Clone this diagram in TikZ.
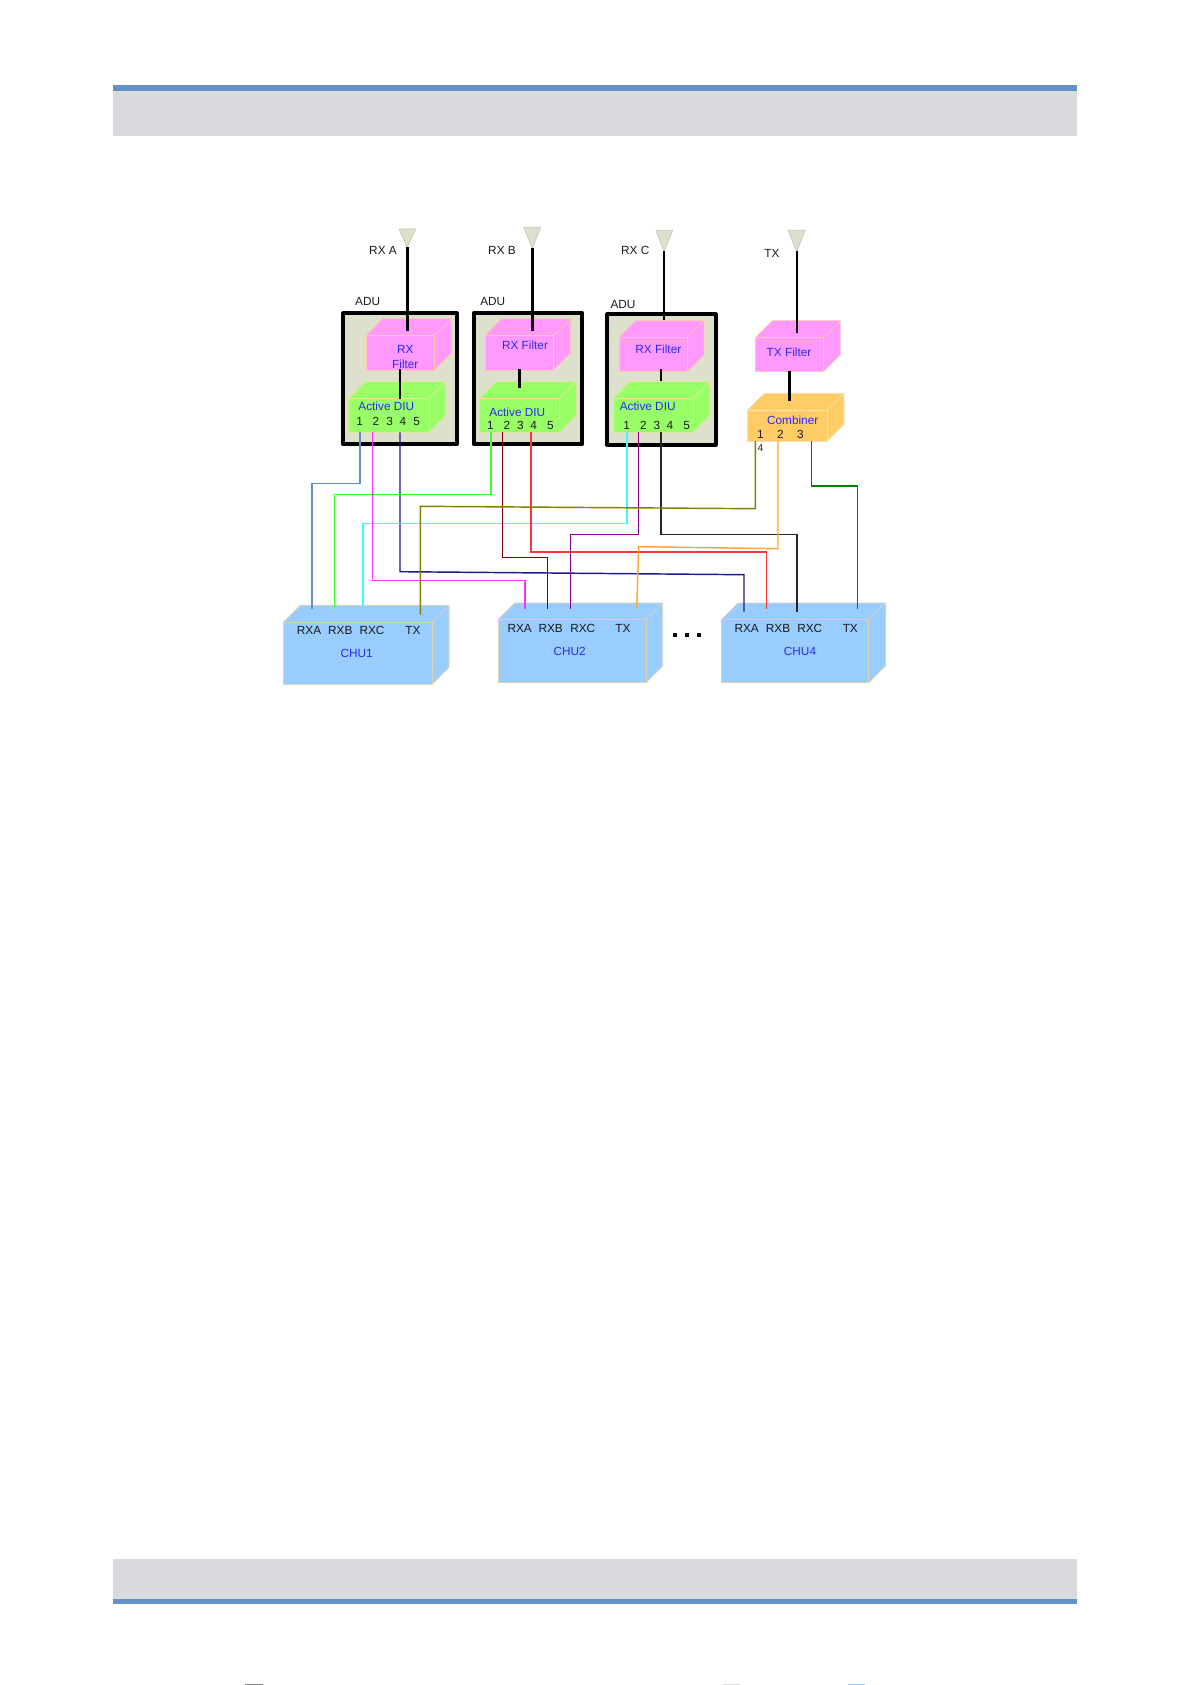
\documentclass[tikz,border=0pt]{standalone}
\usepackage{fontspec}
\setmainfont{Liberation Sans}
\definecolor{bandblue}{HTML}{6491C8}
\definecolor{bandgray}{HTML}{D9DADE}
\definecolor{adufill}{HTML}{DDE0CC}
\definecolor{filterpink}{HTML}{FF99FF}
\definecolor{filterpinkedge}{HTML}{FFC8A8}
\definecolor{diugreen}{HTML}{99FF66}
\definecolor{diugreenedge}{HTML}{E6E6A0}
\definecolor{combfill}{HTML}{FFCC66}
\definecolor{combfilledge}{HTML}{F2E2B8}
\definecolor{chublue}{HTML}{99CCFF}
\definecolor{chubluedge}{HTML}{DCD3AE}
\definecolor{labelblue}{HTML}{2A2AF0}
\definecolor{labeltext}{HTML}{1A1A1A}
\definecolor{wblue}{HTML}{6090CC}
\definecolor{wgreen}{HTML}{33FF33}
\definecolor{wmag}{HTML}{FF33FF}
\definecolor{wnavy}{HTML}{1A1A88}
\definecolor{wcyan}{HTML}{33FFFF}
\definecolor{wdred}{HTML}{800000}
\definecolor{wred}{HTML}{FF3333}
\definecolor{wpurple}{HTML}{880088}
\definecolor{wolive}{HTML}{808000}
\definecolor{worange}{HTML}{FFA733}
\definecolor{wdgreen}{HTML}{008000}
\newcommand{\cuboid}[8]{% name, x1, y1, x2, y2, offset, fill, edge colour
  \fill[#7] (#2,#3) -- (#2+#6,#3-#6) -- (#4+#6,#3-#6) -- (#4+#6,#5-#6) -- (#4,#5) -- cycle;
  \draw[cubeedge,draw=#8] (#2,#3) -- (#2+#6,#3-#6) -- (#4+#6,#3-#6) -- (#4+#6,#5-#6) -- (#4,#5)
        (#4,#3) -- (#4+#6,#3-#6);
  \node[cubefront,fill=#7,draw=#8,minimum width={#4-#2},minimum height={#5-#3},anchor=north west] (#1) at (#2,#3) {};
}
\begin{document}
\begin{tikzpicture}[x=1pt,y=-1pt,
  cubeedge/.style={line width=0.7pt,line join=round},
  cubefront/.style={line width=0.7pt,inner sep=0pt,outer sep=0pt,rectangle},
  adubox/.style={draw=black,line width=3.7pt,fill=adufill,line join=round,rectangle,inner sep=0pt,outer sep=0pt},
  antenna/.style={draw=adufill!75!gray,fill=adufill,line width=0.7pt},
  mast/.style={draw=black,line width=2.4pt},
  wire/.style={line width=1.45pt},
  txt/.style={font=\fontsize{11.8}{12}\selectfont,text=labeltext,inner sep=0pt},
  blu/.style={font=\fontsize{11.8}{12}\selectfont,text=labelblue,inner sep=0pt},
  dotmark/.style={fill=black,inner sep=0pt,minimum size=3.6pt,rectangle},
  band/.style={fill=bandblue},
  panel/.style={fill=bandgray}]
\useasboundingbox (0,0) rectangle (1192,1685);
% page bands
\fill[panel] (113,91) rectangle (1077,135.7);
\fill[band] (113,85) rectangle (1077,91);
\fill[panel] (113,1559) rectangle (1077,1599);
\fill[band] (113,1599) rectangle (1077,1604);
\fill[gray] (245,1684) rectangle (263,1685);
\fill[bandgray] (723,1684) rectangle (740,1685);
\fill[chublue] (848,1684) rectangle (865,1685);
% ADU frames
\node[adubox,minimum width=113.4,minimum height=131,anchor=north west] (adu1) at (343.3,313.3) {};
\node[adubox,minimum width=108.6,minimum height=131,anchor=north west] (adu2) at (473.7,313.3) {};
\node[adubox,minimum width=108.4,minimum height=130.7,anchor=north west] (adu3) at (607.3,314.3) {};
\node[txt] (adu1l) at (367.7,301.7) {ADU};
\node[txt] (adu2l) at (492.7,301.7) {ADU};
\node[txt] (adu3l) at (623,304.3) {ADU};
% filters, DIUs, combiner
\cuboid{f1}{366}{335.3}{434.7}{370}{16.6}{filterpink}{filterpinkedge}
\cuboid{f2}{485}{335.3}{553.7}{370}{16.6}{filterpink}{filterpinkedge}
\cuboid{f3}{619}{337.3}{687.3}{371.7}{16.6}{filterpink}{filterpinkedge}
\cuboid{f4}{755.3}{337.7}{823.3}{371.7}{17}{filterpink}{filterpinkedge}
\cuboid{d1}{348.7}{398.3}{429}{432.3}{16.6}{diugreen}{diugreenedge}
\cuboid{d2}{479.3}{398.3}{559.7}{432.3}{16.6}{diugreen}{diugreenedge}
\cuboid{d3}{613}{398.3}{693.3}{432.3}{16.6}{diugreen}{diugreenedge}
\cuboid{cmb}{747.7}{410}{827.3}{441}{16.7}{combfill}{combfilledge}
\cuboid{c1}{283.3}{622.3}{432}{684.3}{17}{chublue}{chubluedge}
\cuboid{c2}{498}{619.7}{646}{682.7}{16.7}{chublue}{chubluedge}
\cuboid{c4}{721.3}{619.7}{868.7}{682.7}{16.7}{chublue}{chubluedge}
% antennas
\draw[antenna] (399,229) -- (415.7,229) -- (407.3,247.3) -- cycle;
\draw[antenna] (523.7,227.3) -- (540.7,227.3) -- (532.3,248.3) -- cycle;
\draw[antenna] (656,230.3) -- (672.7,230.3) -- (664,251.7) -- cycle;
\draw[antenna] (788,230.3) -- (805,230.3) -- (796.7,251.7) -- cycle;
\coordinate (a1) at (407.3,247);
\coordinate (a2) at (532.3,248);
\coordinate (a3) at (664,251);
\coordinate (a4) at (796.7,251);
\coordinate (a1e) at (407.3,330.7);
\coordinate (a2e) at (532.3,330.7);
\coordinate (a3e) at (664,320);
\coordinate (a4e) at (796.7,333.3);
\draw[mast] (a1) -- (a1e);
\draw[mast] (a2) -- (a2e);
\draw[mast] (a3) -- (a3e);
\draw[mast] (a4) -- (a4e);
\coordinate (m1a) at (400,369.3);   \coordinate (m1b) at (400,398.7);
\coordinate (m2a) at (519.3,369.3); \coordinate (m2b) at (519.3,388.3);
\coordinate (m3a) at (661,369);     \coordinate (m3b) at (661,380.7);
\coordinate (m4a) at (789.3,371);   \coordinate (m4b) at (789.3,401.3);
\draw[mast] (m1a) -- (m1b);
\draw[mast] (m2a) -- (m2b);
\draw[mast] (m3a) -- (m3b);
\draw[mast] (m4a) -- (m4b);
% antenna labels
\node[txt] (la) at (383,250) {RX A};
\node[txt] (lb) at (502,250) {RX B};
\node[txt] (lc) at (635.3,250) {RX C};
\node[txt] (lt) at (772,253.3) {TX};
% box labels
\node[blu] (t1a) at (405.3,349.3) {RX};
\node[blu] (t1b) at (405.3,364.3) {Filter};
\node[blu] (t2) at (525,345) {RX Filter};
\node[blu] (t3) at (658.3,349.3) {RX Filter};
\node[blu] (t4) at (789,352.3) {TX Filter};
\node[blu] (t5) at (386.3,406.7) {Active DIU};
\node[blu] (t6) at (517.3,412.3) {Active DIU};
\node[blu] (t7) at (647.7,406.7) {Active DIU};
\node[blu] (t8) at (792.7,420.7) {Combiner};
\node[blu] (t9) at (356.7,653.3) {CHU1};
\node[blu] (t10) at (569.7,651) {CHU2};
\node[blu] (t11) at (800,651) {CHU4};
% port numbers
\foreach \x/\n in {359.7/1,376/2,389.7/3,403/4,416.7/5} \node[txt] (n1\n) at (\x,421.7) {\n};
\foreach \x/\n in {490.3/1,507/2,520.3/3,533.7/4,550.3/5} \node[txt] (n2\n) at (\x,425) {\n};
\foreach \x/\n in {626.7/1,643.3/2,657/3,670/4,686.7/5} \node[txt] (n3\n) at (\x,425) {\n};
\foreach \x/\n in {760.3/1,780.3/2,800.3/3} \node[txt] (n4\n) at (\x,434) {\n};
\node[txt,font=\fontsize{10}{11}\selectfont] (n44) at (760.3,448.3) {4};
% CHU labels
\foreach \x/\n in {309/RXA,340.3/RXB,372/RXC,413/TX} \node[txt] (c1\n) at (\x,630.7) {\n};
\foreach \x/\n in {519.7/RXA,550.7/RXB,582.7/RXC,623/TX} \node[txt] (c2\n) at (\x,628) {\n};
\foreach \x/\n in {746.7/RXA,778/RXB,809.7/RXC,850.3/TX} \node[txt] (c4\n) at (\x,628) {\n};
% dots
\node[dotmark] (dot1) at (674.7,635) {};
\node[dotmark] (dot2) at (686.7,635) {};
\node[dotmark] (dot3) at (698.7,635) {};
% wires: sources
\coordinate (s11) at (360,432.3);
\coordinate (s12) at (372.3,432.3);
\coordinate (s14) at (400,432.3);
\coordinate (s21) at (491,432.3);
\coordinate (s22) at (502.3,432.3);
\coordinate (s24) at (531,432.3);
\coordinate (s31) at (627,432.3);
\coordinate (s32) at (638.7,432.3);
\coordinate (s33) at (661,432.3);
\coordinate (s41) at (755.3,441);
\coordinate (s42) at (778,441);
\coordinate (s43) at (811.7,441);
% wires: targets
\coordinate (e1a) at (312,608.7);
\coordinate (e1b) at (334.7,608.7);
\coordinate (e1c) at (363,606);
\coordinate (e1t) at (420.3,614.7);
\coordinate (e2a) at (525,608.7);
\coordinate (e2b) at (547.3,608.7);
\coordinate (e2c) at (570.7,608.7);
\coordinate (e2t) at (636.7,608.7);
\coordinate (e4a) at (744,611.7);
\coordinate (e4b) at (766.3,608.7);
\coordinate (e4c) at (797,611.7);
\coordinate (e4t) at (857.3,608.7);
% wires: bends
\coordinate (b1) at (336,483.3);
\coordinate (b2) at (400,494.7);
\coordinate (b3) at (500,523.3);
\coordinate (b4) at (450,580.3);
\coordinate (b5) at (525,557.3);
\coordinate (b6) at (650,552);
\coordinate (b7) at (600,534.7);
\coordinate (b8) at (730,534.7);
\coordinate (b9) at (835,486);
\coordinate (o1) at (755.3,508.7);
\coordinate (o2) at (420.3,506.3);
\coordinate (r1) at (778,548.7);
\coordinate (r2) at (638.7,546.7);
\coordinate (n1) at (400,571.7);
\coordinate (n2) at (744,574.7);
\draw[wire,wnavy] (s14) -- (n1) -- (n2) -- (e4a);
\draw[wire,wblue] (s11) |- (b1) -| (e1a);
\draw[wire,wgreen] (s21) |- (b2) -| (e1b);
\draw[wire,wcyan] (s31) |- (b3) -| (e1c);
\draw[wire,wmag] (s12) |- (b4) -| (e2a);
\draw[wire,wdred] (s22) |- (b5) -| (e2b);
\draw[wire,wred] (s24) |- (b6) -| (e4b);
\draw[wire,wpurple] (s32) |- (b7) -| (e2c);
\draw[wire,black!85] (s33) |- (b8) -| (e4c);
\draw[wire,worange] (s42) -- (r1) -- (r2) -- (e2t);
\draw[wire,wdgreen] (s43) |- (b9) -| (e4t);
\draw[wire,wolive] (s41) -- (o1) -- (o2) -- (e1t);
\end{tikzpicture}
\end{document}
